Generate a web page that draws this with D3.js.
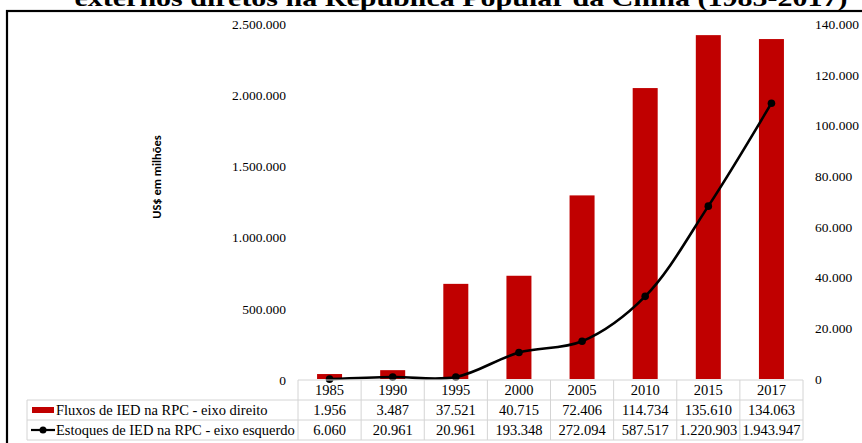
<!DOCTYPE html>
<html>
<head>
<meta charset="utf-8">
<script src="https://cdn.jsdelivr.net/npm/d3@7"></script>
<style>
  html, body { margin: 0; padding: 0; background: #fff; }
  svg { display: block; }
</style>
</head>
<body>
<svg id="chart" width="862" height="443"></svg>
<script>
// Anos, fluxos (eixo direito) e estoques (eixo esquerdo) de IED na RPC, US$ milhões
const years = ["1985", "1990", "1995", "2000", "2005", "2010", "2015", "2017"];
const fluxos = [1956, 3487, 37521, 40715, 72406, 114734, 135610, 134063];
const estoques = [6060, 20961, 20961, 193348, 272094, 587517, 1220903, 1943947];
const leftTicks = [0, 500000, 1000000, 1500000, 2000000, 2500000];
const rightTicks = [0, 20000, 40000, 60000, 80000, 100000, 120000, 140000];
const seriesNames = ["Fluxos de IED na RPC - eixo direito", "Estoques de IED na RPC - eixo esquerdo"];
const titleLine = "externos diretos na República Popular da China (1985-2017)";

const SERIF = "'Liberation Serif', 'Times New Roman', Times, 'DejaVu Serif', serif";
const ptBR = d3.formatLocale({ decimal: ",", thousands: ".", grouping: [3], currency: ["US$", ""] });
const fmt = ptBR.format(",d");

const svg = d3.select("#chart");
const red = "#c00000";

// moldura e título
svg.append("rect").attr("x", 7).attr("y", 11).attr("width", 900).attr("height", 500)
  .attr("fill", "none").attr("stroke", "#000").attr("stroke-width", 2.2);
svg.append("text").attr("x", 461).attr("y", 6).attr("text-anchor", "middle")
  .style("font-family", SERIF).style("font-weight", "bold").style("font-size", "24px")
  .attr("textLength", 773).attr("lengthAdjust", "spacingAndGlyphs")
  .text(titleLine);

// escalas
const tableLeft = 298, tableRight = 803;
const x = d3.scaleBand().domain(years).range([tableLeft, tableRight]).paddingInner(0).paddingOuter(0);
const yLeft = d3.scaleLinear().domain([0, 2500000]).range([380, 24]);
const yRight = d3.scaleLinear().domain([0, 140000]).range([379, 24]);
const barW = 25;

// eixo esquerdo (somente rótulos)
const axL = svg.append("g").attr("transform", "translate(286,0)")
  .call(d3.axisLeft(yLeft).tickValues(leftTicks).tickFormat(fmt).tickSize(0).tickPadding(0));
axL.select(".domain").remove();
axL.selectAll("text").style("font-size", "13.5px").style("font-family", SERIF).attr("dy", "0.32em");

// eixo direito
const axR = svg.append("g").attr("transform", "translate(815,0)")
  .call(d3.axisRight(yRight).tickValues(rightTicks).tickFormat(fmt).tickSize(0).tickPadding(0));
axR.select(".domain").remove();
axR.selectAll("text").style("font-size", "13.5px").style("font-family", SERIF).attr("dy", "0.32em");

// título do eixo
svg.append("text")
  .attr("transform", "translate(161,177) rotate(-90)")
  .attr("text-anchor", "middle")
  .style("font-family", "Carlito, 'Open Sans', 'DejaVu Sans', sans-serif")
  .style("font-weight", "bold").style("font-size", "12.5px")
  .text("US$ em milhões");

// barras (fluxos)
svg.append("g").selectAll("rect").data(fluxos).join("rect")
  .attr("x", (d, i) => x(years[i]) + x.bandwidth() / 2 - barW / 2)
  .attr("width", barW)
  .attr("y", d => yRight(d))
  .attr("height", d => yRight(0) - yRight(d))
  .attr("fill", red);

// linha suavizada (estoques)
const line = d3.line()
  .x((d, i) => x(years[i]) + x.bandwidth() / 2)
  .y(d => yLeft(d))
  .curve(d3.curveCatmullRom.alpha(0.5));
svg.append("path").datum(estoques).attr("d", line)
  .attr("fill", "none").attr("stroke", "#000").attr("stroke-width", 2.6);
svg.append("g").selectAll("circle").data(estoques).join("circle")
  .attr("cx", (d, i) => x(years[i]) + x.bandwidth() / 2)
  .attr("cy", d => yLeft(d))
  .attr("r", 3.8).attr("fill", "#000");

// tabela de dados
const gridC = "#d4d4d4";
const rowY = [380, 400, 420, 440];
const tbl = svg.append("g");
const legendLeft = 27;
tbl.append("line").attr("x1", tableLeft).attr("x2", tableRight).attr("y1", rowY[0]).attr("y2", rowY[0]).attr("stroke", gridC);
[1, 2, 3].forEach(k => {
  tbl.append("line").attr("x1", legendLeft).attr("x2", tableRight).attr("y1", rowY[k]).attr("y2", rowY[k]).attr("stroke", gridC);
});
tbl.append("line").attr("x1", legendLeft).attr("x2", legendLeft).attr("y1", rowY[1]).attr("y2", rowY[3]).attr("stroke", gridC);
years.forEach(yr => {
  tbl.append("line").attr("x1", x(yr)).attr("x2", x(yr)).attr("y1", rowY[0]).attr("y2", rowY[3]).attr("stroke", gridC);
});
tbl.append("line").attr("x1", tableRight).attr("x2", tableRight).attr("y1", rowY[0]).attr("y2", rowY[3]).attr("stroke", gridC);

const cellText = (txt, cx, row) => tbl.append("text")
  .attr("x", cx).attr("y", (rowY[row] + rowY[row + 1]) / 2).attr("dy", "0.35em")
  .attr("text-anchor", "middle")
  .style("font-family", SERIF).style("font-size", "14.5px").text(txt);

years.forEach((yr, i) => {
  const cx = x(yr) + x.bandwidth() / 2;
  cellText(yr, cx, 0);
  cellText(fmt(fluxos[i]), cx, 1);
  cellText(fmt(estoques[i]), cx, 2);
});

// chaves da legenda
tbl.append("rect").attr("x", 32).attr("y", 407).attr("width", 22).attr("height", 6).attr("fill", red);
tbl.append("line").attr("x1", 31).attr("x2", 55).attr("y1", 430).attr("y2", 430).attr("stroke", "#000").attr("stroke-width", 2.2);
tbl.append("circle").attr("cx", 43).attr("cy", 430).attr("r", 3.5).attr("fill", "#000");
seriesNames.forEach((nm, k) => {
  tbl.append("text").attr("x", 56).attr("y", (rowY[k + 1] + rowY[k + 2]) / 2).attr("dy", "0.35em")
    .style("font-family", SERIF).style("font-size", "14.5px").text(nm);
});
</script>
</body>
</html>
